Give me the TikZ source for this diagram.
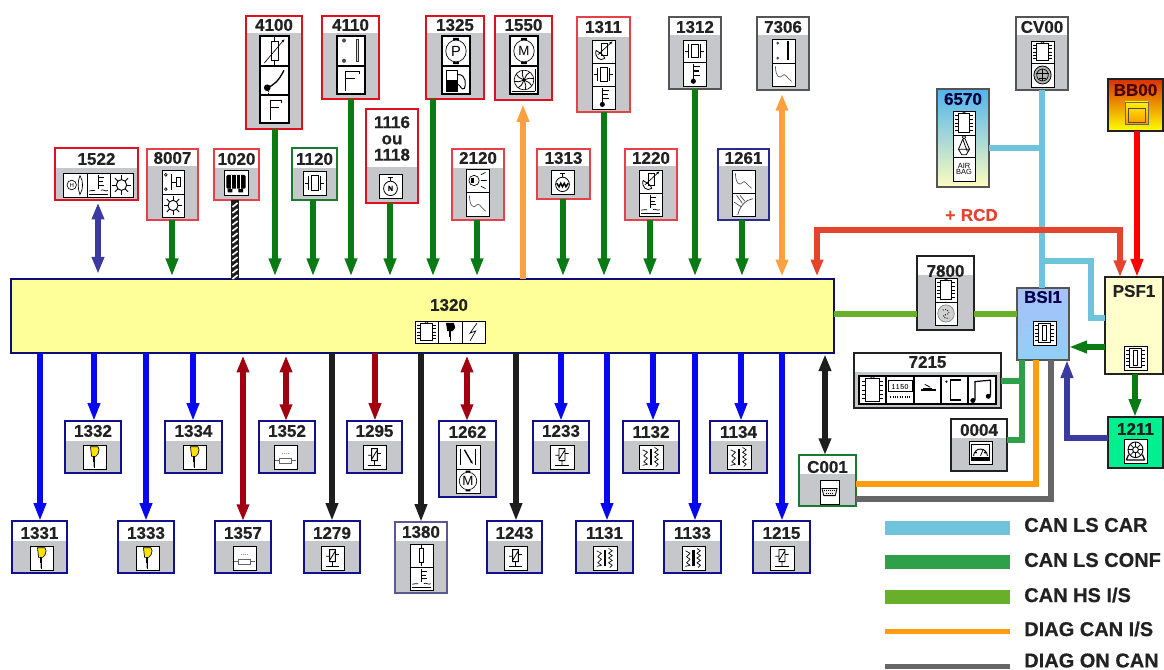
\documentclass[tikz,border=0pt]{standalone}
\usepackage{fontspec}
\setmainfont{Liberation Sans}[BoldFeatures={FakeBold=0.5}]
\usetikzlibrary{arrows.meta,calc}
\definecolor{boxgray}{HTML}{C6C7CB}
\definecolor{txt}{HTML}{222222}
\definecolor{arrgreen}{HTML}{0A7A14}
\definecolor{arrblue}{HTML}{0808F0}
\definecolor{arrred}{HTML}{A00010}
\definecolor{arrblack}{HTML}{1E1E1E}
\definecolor{arrnavy}{HTML}{3A3AA0}
\definecolor{arrorange}{HTML}{FFA040}
\definecolor{rcd}{HTML}{E6432E}
\definecolor{canlscar}{HTML}{6EC4DA}
\definecolor{canlsconf}{HTML}{2EA04A}
\definecolor{canhs}{HTML}{6AAF2A}
\definecolor{diagor}{HTML}{FF9C10}
\definecolor{diaggr}{HTML}{666666}
\tikzset{
 redb/.style={draw={rgb,255:red,224;green,16;blue,30},line width=1.8pt},
 pinkb/.style={draw={rgb,255:red,232;green,64;blue,74},line width=1pt},
 greenb/.style={draw={rgb,255:red,26;green,122;blue,48},line width=1.5pt},
 grayb/.style={draw={rgb,255:red,85;green,85;blue,85},line width=1.1pt},
 navyt/.style={draw={rgb,255:red,42;green,42;blue,144},line width=.8pt},
 blueb/.style={draw={rgb,255:red,16;green,16;blue,144},line width=1.5pt},
 paleb/.style={draw={rgb,255:red,90;green,90;blue,144},line width=.9pt},
 blackb/.style={draw=txt,line width=1.5pt},
 modbox/.style={rectangle,inner sep=0pt,outer sep=0pt},
 lab/.style={font=\fontsize{12.75}{13.2}\selectfont\bfseries,text=txt,inner sep=0pt,align=center},
 leg/.style={font=\fontsize{15}{15}\selectfont\bfseries,text=txt,inner sep=0pt,anchor=west},
 iconbox/.style={draw=black,fill=white,line width=.6pt},
 iconbold/.style={draw=black,fill=white,line width=1.2pt},
 gl/.style={line width=.5pt,draw=black},
 conn/.style={line width=4.6pt},
 tipd/.style={-{Triangle[length=13.5pt,width=8.8pt]}},
 tipb/.style={{Triangle[length=12.5pt,width=8.8pt]}-{Triangle[length=12.5pt,width=8.8pt]}},
 glt/.style={font=\fontsize{7}{7}\selectfont,inner sep=0pt},
}
\newcommand{\ubx}[9]{% id x1 y1 x2 y2 grayY labelY style label
 \fill[white] (#2,#3) rectangle (#4,#5);
 \fill[boxgray] (#2,#6) rectangle (#4,#5);
 \node[modbox,#8,minimum width={(#4-#2)*0.75pt},minimum height={(#5-#3)*0.75pt}] (b#1) at ({(#2+#4)/2},{(#3+#5)/2}) {};
 \node[lab] (l#1) at ({(#2+#4)/2},#7) {#9};
}
\newcommand{\ub}[8]{\ubx{#1}{#2}{#3}{#4}{#5}{#6}{#7}{#8}{#1}}
\newcommand{\ubf}[9]{% id x1 y1 x2 y2 labelY borderstyle fill options, label colour
 \path[#8] (#2,#3) rectangle (#4,#5);
 \node[modbox,#7,minimum width={(#4-#2)*0.75pt},minimum height={(#5-#3)*0.75pt}] (b#1) at ({(#2+#4)/2},{(#3+#5)/2}) {};
 \node[lab,text=#9] (l#1) at ({(#2+#4)/2},#6) {#1};
}
\newcommand{\ic}[5]{%
 \path[iconbox] (#1,#2) rectangle (#3,#4);
 \begin{scope}[gl,shift={({(#1+#3)/2},{(#2+#4)/2})},xscale={(#3-#1)/20},yscale={(#4-#2)/20}]#5\end{scope}}
\newcommand{\icb}[5]{%
 \path[iconbold] (#1,#2) rectangle (#3,#4);
 \begin{scope}[gl,shift={({(#1+#3)/2},{(#2+#4)/2})},xscale={(#3-#1)/20},yscale={(#4-#2)/20}]#5\end{scope}}
% glyphs
\newcommand{\gChip}{\draw (-5,-8) rectangle (5,8); \draw (-1.5,-8) arc (180:0:1.5 and -1.5);
 \foreach \yy in {-6,-3,0,3,6}{\draw (-8,\yy)--(-5,\yy) (5,\yy)--(8,\yy);}}
\newcommand{\gChipB}{\draw[line width=.7pt] (-5,-8) rectangle (5,8); \draw[line width=.7pt] (-1.6,-6) rectangle (1.6,6);
 \foreach \yy in {-6,-3,0,3,6}{\draw (-8,\yy)--(-5,\yy) (5,\yy)--(8,\yy);}}
\newcommand{\gThermo}{\draw[line width=.8pt] (-1,-8)--(-1,5) (-1,-6)--(4.5,-6) (-1,-2.5)--(3.5,-2.5) (-1,1)--(4.5,1); \fill (-1,6) circle (2.2);}
\newcommand{\gThermoF}{\draw (0,-8)--(0,3) (0,-6)--(4.5,-6) (0,-3)--(3.5,-3) (0,0)--(4.5,0);
 \draw (-8,5) .. controls (-6,3) and (-5,6) .. (-3,4.5) (2,4.5) .. controls (4,3) and (6,6) .. (8,4.5); \draw (-8,7.5)--(8,7.5);}
\newcommand{\gVarRes}{\draw (-2.5,-6.5) rectangle (2.5,6.5) (0,-9.5)--(0,-6.5) (0,6.5)--(0,9.5);
 \draw[-{Latex[length=2.5pt,width=2pt]}] (-7,8)--(7,-8);}
\newcommand{\gVarResL}{\draw[line width=.6pt] (-1.5,-7) rectangle (3,3); \draw[line width=.6pt] (-6.5,-1) .. controls (-8,5) and (-3,9) .. (1,6) .. controls (1,3) and (-4,1) .. (-6.5,-1);
 \draw[-{Latex[length=2.5pt,width=2pt]}] (-5,3)--(8,-9);}
\newcommand{\gPedal}{\fill (-5,5) circle (2.3); \draw[line width=1pt] (-5,5) .. controls (0,3) and (3,0) .. (6.5,-7); \draw[densely dotted] (-4,7)--(-4,9.5);}
\newcommand{\gF}{\draw (-3,8)--(-3,-6)--(5,-6)--(5,-4) (-3,-1)--(3,-1);}
\newcommand{\gFb}{\draw[line width=1.1pt] (-4,8)--(-4,-6)--(6,-6)--(6,-4) (-4,-1)--(3,-1);}
\newcommand{\gContact}{\fill[black!70] (-5,-7) circle (1.4) (-5,6.5) circle (1.4); \draw[black!80,fill=black!15] (3.5,-8) rectangle (5.5,7);}
\newcommand{\gContactB}{\fill[black!70] (-5,-6.5) circle (1.3) (-5,6) circle (1.3); \fill[black] (3,-8) rectangle (4.8,7.5);}
\newcommand{\gCurve}{\draw[black!65,line width=.5pt] (-7,-7) .. controls (-7,2) and (-3,4) .. (-1,1) .. controls (1,-2) and (3,3) .. (7,6);}
\newcommand{\gYCurve}{\draw[black!75] (-5,9) .. controls (-3,1) and (2,-4) .. (8,-5) (-1,-1)--(-6,-8) (1,-3)--(-3,-8) (-2,2)--(-8,-2);}
\newcommand{\gCircP}{\draw (0,0) circle (7.3); \node[glt,font=\fontsize{11}{11}\selectfont] (gp) at (0,0) {P}; \fill (-2,-8.7) rectangle (2,-7.3) (-2,7.3) rectangle (2,8.7);}
\newcommand{\gCircM}{\draw (0,0) circle (7.3); \node[glt,font=\fontsize{10}{10}\selectfont] (gm) at (0,0) {M}; \fill (-2,-8.7) rectangle (2,-7.3) (-2,7.3) rectangle (2,8.7);}
\newcommand{\gFuel}{\draw[line width=.7pt] (-7,-7) rectangle (1,8); \fill (-7,0) rectangle (1,8); \draw[line width=.7pt] (1,-4) .. controls (8,-4) and (7,4) .. (6,6) .. controls (4,8) and (3,3) .. (1,3);}
\newcommand{\gTurbine}{\draw (0,0) circle (7); \foreach \aa in {0,45,...,315}{\draw[rotate=\aa,line width=.6pt] (0,0) .. controls (3,-1) and (5,-2) .. (6.7,-1);} \draw[line width=.6pt] (-8.5,8)--(8,8) (8,8)--(8,-8);}
\newcommand{\gKnock}{\draw (-8,0)--(-5,0) (-5,-6)--(-5,6) (-3,-6) rectangle (3,6) (5,-6)--(5,6) (5,0)--(8,0);}
\newcommand{\gRpmN}{\draw[line width=.6pt] (0,2) circle (6); \draw (0,-4)--(0,-7.5) (-2,-7.5)--(2,-7.5); \node[glt,font=\fontsize{5.5}{5.5}\selectfont\bfseries] (gn) at (0,2) {N};}
\newcommand{\gRpmW}{\draw[line width=.6pt] (0,2) circle (6); \draw (0,-4)--(0,-7.5) (-2,-7.5)--(2,-7.5); \draw[line width=1.1pt] (-5,1)--(-3,4)--(-1.5,1)--(0,4)--(1.5,1)--(3,4)--(5,1);}
\newcommand{\gLight}{\draw (-3,0) circle (4.5); \fill (-6,-2) rectangle (-3,2); \draw (3,-5)--(7,-7) (3,0)--(8,0) (3,5)--(7,7);}
\newcommand{\gInj}{\filldraw[fill=yellow!85!orange,draw=black,line width=.5pt] (-3.5,-8.5)--(3,-8.5)--(4,-6)--(3,-2.5)--(1,-.5)--(-2.5,-.5)--cycle; \fill (-1.6,-.5) rectangle (.8,4.5); \fill[gray!60] (-1.2,4.5) rectangle (.4,8); \fill (-.8,4.5) rectangle (0,9);}
\newcommand{\gRes}{\draw[black!60] (-9,3)--(-5,3) (-5,1) rectangle (5,5) (5,3)--(9,3); \draw[black!40,densely dotted] (-3,-3)--(3,-3);}
\newcommand{\gSens}{\draw[line width=.6pt] (-2.5,-7) rectangle (2.5,3) (-5.5,-1.5)--(-2.5,-1.5) (2.5,-3)--(5.5,-3) (-2.5,2)--(2.5,-6) (0,3)--(0,6.5); \draw[line width=1pt] (-6,7)--(6,7);}
\newcommand{\gCoil}{\draw[line width=.5pt] (-7,-6)--(-3,-4)--(-6,-1)--(-3,1)--(-6,4)--(-3,6)--(-7,7); \fill (-1,-7) rectangle (1,7); \draw[line width=.5pt] (3,-8)--(6,-6)--(3,-4)--(6,-2)--(3,0)--(6,2)--(3,4)--(6,6)--(4,8) ;}
\newcommand{\gAlt}{\fill[rounded corners=1pt] (-8,-6) rectangle (8,5); \fill (-7,5) rectangle (-3,8) (2,5) rectangle (6,8); \draw[white,line width=.7pt] (-4,-6)--(-4,5) (0,-6)--(0,5) (4,-6)--(4,5);}
\newcommand{\gGear}{\draw[line width=.7pt] (0,0) circle (4.5); \foreach \aa in {0,45,...,315}{\draw[rotate=\aa,line width=.7pt] (4.5,0)--(8,0);}}
\newcommand{\gFan}{\draw (-3,0) circle (4); \node[glt,font=\fontsize{4.5}{4.5}\selectfont] (gh) at (-3,0) {H}; \draw[fill=white] (4,-8) .. controls (7,-3) and (7,3) .. (4,8) .. controls (2,3) and (2,-3) .. (4,-8);}
\newcommand{\gSwitch}{\draw (-6.5,-6) circle (1.2) (-6.5,6) circle (1.2); \draw[line width=.7pt] (-1,-7)--(-1,7) (-1,0)--(3,0) (3,-3.5) rectangle (7,3.5);}
\newcommand{\gThrottle}{\draw (-6,-7)--(-6,7) (6,-7)--(6,7); \draw[line width=1pt,-{Latex[length=2.5pt,width=2pt]}] (-3,-6)--(4,6);}
\newcommand{\gWheel}{\filldraw[fill=gray!60,line width=.6pt] (0,0) circle (7.5); \draw[line width=.5pt] (0,0) circle (5); \draw[line width=.8pt] (-6,-1)--(6,-1) (-3,3)--(3,3) (0,-5)--(0,5);}
\newcommand{\gSpeck}{\filldraw[fill=gray!35,draw=black!50] (0,0) circle (7.5); \draw[black!80,densely dotted,line width=.8pt] (-3,-3) .. controls (3,-5) and (5,1) .. (0,1) .. controls (-4,1) and (-3,5) .. (3,4);}
\newcommand{\gBelt}{\draw (0,-8) circle (1.6); \draw[line width=.6pt] (-1,-6.5)--(-5,3)--(-2,8)--(2,8)--(5,3)--(1,-6.5); \draw[line width=.6pt] (-5,3)--(5,3) (-1,-6)--(3,5);}
\newcommand{\gAirbag}{\node[glt,font=\fontsize{5.6}{5.2}\selectfont,align=center] (gab) at (0,0) {AIR\\BAG};}
\newcommand{\gDisplay}{\node[glt,font=\fontsize{6.2}{6.2}\selectfont\ttfamily\bfseries] (gd) at (0,-2.5) {1150}; \draw[densely dotted,line width=.8pt] (-7,5)--(7,5); \draw (-8.5,-7) rectangle (8.5,1);}
\newcommand{\gOil}{\draw[line width=.9pt] (-5,0)--(6,0); \fill (-3,-1.5) rectangle (3,1); \draw[line width=.6pt] (-2,-4)--(2,-2);}
\newcommand{\gDegC}{\fill (-6,-6) circle (.9); \draw[line width=1.1pt] (5,-7)--(-3,-7)--(-3,7)--(5,7);}
\newcommand{\gNote}{\draw[line width=.9pt] (-5,7)--(-5,-6)--(6,-7)--(6,4); \fill (-6.5,7.5) circle (1.8) (4.5,4.5) circle (1.8);}
\newcommand{\gGauge}{\draw (-8,-7) rectangle (8,7); \draw[line width=.7pt] (-6,3) arc (180:360:6); \draw (0,3)--(2,-2); \fill (-7,4) rectangle (7,6.5);\fill (-4,0) circle (1) (4,0) circle (1);}
\newcommand{\gPumpW}{\draw[line width=.7pt] (0,-1) circle (6.5) (0,-1) circle (2.5); \foreach \aa in {0,45,...,315}{\draw[rotate around={\aa:(0,-1)}] (2.5,-1)--(6.5,-1);} \draw[line width=.9pt] (-8,7.5)--(8,7.5) (-6,3)--(-8,7.5) (6,3)--(8,7.5);}
\newcommand{\gConn}{\draw[line width=.6pt,fill=gray!15] (-8,-3)--(8,-3)--(6,3)--(-6,3)--cycle; \draw[densely dotted] (-6,-1)--(6,-1) (-4,1)--(4,1);}
\newcommand{\gBolt}{\draw[line width=.5pt] (3,-8)--(-3,1)--(2,-1)--(-3,8);}
\newcommand{\gInjW}{\filldraw[fill=black] (-3,-8)--(3,-8)--(4,-4)--(2,-1)--(-2,-1)--cycle; \fill (-1,-1) rectangle (1,5); \draw (0,5)--(0,8);}
\newcommand{\gVres}{\draw (-2,-6) rectangle (2,6) (0,-9)--(0,-6) (0,6)--(0,9);}
\newcommand{\toecu}[3]{\coordinate (a#1) at (#2,0); \draw[conn,#3,shorten >=2pt] (a#1 |- b#1.south) -- (a#1 |- becu.north);}
\newcommand{\fromecu}[3]{\coordinate (a#1) at (#2,0); \draw[conn,#3,tipd] (a#1 |- becu.south) -- (a#1 |- b#1.north);}
\begin{document}
\begin{tikzpicture}[x=0.75pt,y=-0.75pt]
\useasboundingbox (0,0) rectangle (1164,670);
\fill[white] (0,0) rectangle (1164,670);
% ECU
\node[modbox,draw={rgb,255:red,12;green,12;blue,120},fill={rgb,255:red,255;green,255;blue,153},line width=1.6pt,minimum width={823*0.75pt},minimum height={74*0.75pt}] (becu) at (422.5,316) {};
\node[lab] (lecu) at (449,305) {1320};
\ic{415}{321}{438}{343}{\gChip}
\ic{438}{321}{462}{343}{\gInjW}
\ic{462}{321}{485}{343}{\gBolt}
% top modules
\ub{1522}{55}{148}{138}{200}{168}{159}{redb}
\ic{63.5}{173}{87}{197}{\gFan}\ic{87}{173}{110}{197}{\gThermoF}\ic{110}{173}{133}{197}{\gGear}
\ub{8007}{147}{149}{198}{220}{166}{158}{pinkb}
\ic{162}{170}{184}{194}{\gSwitch}\ic{162}{194}{184}{217}{\gGear}
\ub{1020}{214}{149}{259}{200}{168}{159}{pinkb}
\ic{224}{170}{248}{195}{\gAlt}
\ub{1120}{292}{148}{337}{200}{168}{159}{greenb}
\ic{303}{171}{326}{195}{\gKnock}
\ub{4100}{246}{16}{302}{129}{33}{25}{redb}
\icb{260}{36}{289}{66}{\gVarRes}\icb{260}{66}{289}{95}{\gPedal}\icb{260}{95}{289}{123}{\gF}
\ub{4110}{322}{16}{379}{99}{33}{25}{redb}
\icb{337}{36}{365}{66}{\gContact}\icb{337}{66}{365}{94}{\gFb}
\ubx{1116}{366}{109}{418}{203}{167}{138.5}{redb}{1116\\[-1pt]ou\\[-1pt]1118}
\ic{379}{174}{402}{198}{\gRpmN}
\ub{1325}{426}{16}{484}{99}{33}{25}{redb}
\icb{442}{36}{470}{66}{\gCircP}\icb{442}{66}{470}{94}{\gFuel}
\ub{1550}{495}{16}{552}{100}{33}{25}{redb}
\icb{510}{36}{538}{66}{\gCircM}\icb{510}{66}{538}{94}{\gTurbine}
\ub{1311}{577}{17}{630}{112}{37}{27}{pinkb}
\ic{592}{40}{615}{63}{\gVarResL}\ic{592}{63}{615}{86}{\gKnock}\ic{592}{86}{615}{109}{\gThermo}
\ub{1312}{669}{17}{721}{89}{35}{27}{grayb}
\ic{683}{40}{706}{62}{\gKnock}\ic{683}{62}{706}{86}{\gThermo}
\ub{7306}{757}{17}{809}{90}{35}{27}{grayb}
\ic{772}{39}{795}{63}{\gContactB}\ic{772}{63}{795}{86}{\gCurve}
\ub{2120}{452}{149}{504}{220}{168}{158}{pinkb}
\ic{466}{169}{489}{192}{\gLight}\ic{466}{192}{489}{216}{\gCurve}
\ub{1313}{537}{149}{590}{199}{166}{158}{pinkb}
\ic{551}{170}{574}{194}{\gRpmW}
\ub{1220}{625}{149}{677}{220}{166}{158}{pinkb}
\ic{639}{170}{662}{193}{\gVarResL}\ic{639}{193}{662}{216}{\gThermoF}
\ub{1261}{718}{149}{769}{220}{166}{158}{navyt}
\ic{732}{170}{755}{193}{\gCurve}\ic{732}{193}{755}{216}{\gYCurve}
\ub{CV00}{1016}{17}{1068}{90}{35}{27}{grayb}
\ic{1031}{41}{1054}{63}{\gChip}\ic{1031}{63}{1054}{87}{\gWheel}
% gradient modules
\ubf{6570}{937}{89}{989}{187}{99}{grayb}{top color={rgb,255:red,80;green,180;blue,240},bottom color={rgb,255:red,253;green,252;blue,190}}{black!80!blue}
\ic{953}{111}{975}{135}{\gChip}\ic{953}{135}{975}{157}{\gBelt}\ic{953}{157}{975}{181}{\gAirbag}
\ubf{BB00}{1108}{79}{1163}{131}{90}{blackb}{top color={rgb,255:red,216;green,48;blue,0},middle color=yellow,bottom color=yellow}{black!70!red}
\path[draw=black!60,line width=.5pt,top color=yellow!90!orange,bottom color=orange!80!yellow] (1125,102) rectangle (1148,124);
\draw[black!70,line width=.5pt] (1128,108) rectangle (1145,122);
\ubf{PSF1}{1105}{277}{1163}{374}{291}{blackb}{fill={rgb,255:red,255;green,255;blue,204}}{txt}
\ic{1124}{346}{1147}{370}{\gChipB}
\ubf{BSI1}{1017}{288}{1069}{360}{297}{grayb}{top color={rgb,255:red,168;green,192;blue,248},middle color={rgb,255:red,168;green,116;blue,240},bottom color={rgb,255:red,144;green,208;blue,248}}{black!70!blue}
\ic{1033}{321}{1056}{345}{\gChipB}
\ub{7800}{917}{256}{974}{330}{275}{271}{blackb}
\ic{935}{278}{957}{302}{\gChip}\ic{935}{302}{957}{325}{\gSpeck}
\ub{7215}{854}{353}{1001}{408}{372}{362}{blackb}
\icb{859}{376}{886}{404}{\gChip}\icb{886}{376}{914}{404}{\gDisplay}\icb{914}{376}{941}{404}{\gOil}\icb{941}{376}{968}{404}{\gDegC}\icb{968}{376}{996}{404}{\gNote}
\ub{0004}{951}{419}{1007}{471}{438}{430}{blackb}
\ic{969}{441}{992}{464}{\gGauge}
\ubf{1211}{1108}{417}{1163}{468}{429}{blackb}{fill={rgb,255:red,0;green,240;blue,144}}{txt}
\ic{1124}{439}{1147}{463}{\gPumpW}
\ub{C001}{799}{455}{856}{506}{474}{467}{greenb}
\ic{820}{480}{839}{504}{\gConn}
% bottom modules
\ub{1332}{65}{421}{121}{473}{441}{431}{blueb}\ic{83}{445}{106}{469}{\gInj}
\ub{1334}{165}{421}{222}{473}{441}{431}{blueb}\ic{183}{445}{206}{469}{\gInj}
\ub{1352}{259}{421}{315}{473}{441}{431}{blueb}\ic{274}{445}{297}{469}{\gRes}
\ub{1295}{347}{421}{402}{473}{441}{431}{blueb}\ic{363}{445}{386}{469}{\gSens}
\ub{1262}{439}{421}{496}{497}{441}{432}{blueb}\ic{456}{445}{480}{469}{\gThrottle}\ic{456}{469}{480}{493}{\gCircM}
\ub{1233}{533}{421}{589}{473}{441}{431}{blueb}\ic{550}{445}{574}{469}{\gSens}
\ub{1132}{623}{421}{679}{473}{441}{432}{blueb}\ic{639}{445}{663}{469}{\gCoil}
\ub{1134}{710}{421}{767}{473}{441}{432}{blueb}\ic{727}{445}{751}{469}{\gCoil}
\ub{1331}{12}{521}{67}{573}{541}{533}{blueb}\ic{30}{546}{53}{570}{\gInj}
\ub{1333}{118}{521}{174}{573}{541}{533}{blueb}\ic{136}{546}{159}{570}{\gInj}
\ub{1357}{215}{521}{271}{573}{541}{533}{blueb}\ic{233}{546}{256}{570}{\gRes}
\ub{1279}{304}{521}{360}{573}{541}{533}{blueb}\ic{321}{546}{344}{570}{\gSens}
\ub{1380}{395}{522}{447}{593}{541}{532}{paleb}\ic{410}{544}{433}{567}{\gVres}\ic{410}{567}{433}{590}{\gThermoF}
\ub{1243}{487}{521}{542}{573}{541}{533}{blueb}\ic{504}{546}{527}{570}{\gSens}
\ub{1131}{576}{521}{633}{573}{541}{533}{blueb}\ic{593}{546}{617}{570}{\gCoil}
\ub{1133}{664}{521}{721}{573}{541}{533}{blueb}\ic{682}{546}{705}{570}{\gCoil}
\ub{1215}{753}{521}{810}{573}{541}{533}{blueb}\ic{770}{546}{794}{570}{\gSens}
% connectors to the ECU, top
\coordinate (a1522) at (98,0);
\draw[conn,arrnavy,tipb,line width=4.2pt,shorten <=2pt,shorten >=4pt] (a1522 |- b1522.south) -- (a1522 |- becu.north);
\toecu{8007}{172}{arrgreen,tipd}
\coordinate (a1020) at (235,0);
\draw[line width=5.5pt,arrblack] (a1020 |- b1020.south) -- (a1020 |- becu.north);
\foreach \yy in {205,211,...,277}{\draw[white,line width=1.2pt] (232.4,\yy+2) -- (237.6,\yy-2);}
\toecu{4100}{275}{arrgreen,tipd}
\toecu{1120}{313}{arrgreen,tipd}
\toecu{4110}{351}{arrgreen,tipd}
\toecu{1116}{390}{arrgreen,tipd}
\toecu{1325}{433}{arrgreen,tipd}
\toecu{2120}{477}{arrgreen,tipd}
\toecu{1313}{563}{arrgreen,tipd}
\toecu{1311}{604}{arrgreen,tipd}
\toecu{1220}{650}{arrgreen,tipd}
\toecu{1312}{695}{arrgreen,tipd}
\toecu{1261}{742}{arrgreen,tipd}
\coordinate (a1550) at (523,0);
\draw[conn,arrorange,tipd,shorten >=3pt] (a1550 |- becu.north) -- (a1550 |- b1550.south);
\coordinate (a7306) at (782,0);
\draw[conn,arrorange,tipb,shorten <=2pt,shorten >=3pt] (a7306 |- becu.north) -- (a7306 |- b7306.south);
% bottom
\fromecu{1331}{40}{arrblue}
\fromecu{1332}{94}{arrblue}
\fromecu{1333}{146}{arrblue}
\fromecu{1334}{193}{arrblue}
\fromecu{1279}{332}{arrblack}
\fromecu{1295}{375}{arrred}
\fromecu{1380}{421}{arrblack}
\fromecu{1243}{516}{arrblack}
\fromecu{1233}{561}{arrblue}
\fromecu{1131}{607}{arrblue}
\fromecu{1132}{653}{arrblue}
\fromecu{1133}{695}{arrblue}
\fromecu{1134}{741}{arrblue}
\fromecu{1215}{782}{arrblue}
\coordinate (a1357) at (243,0);
\coordinate (a1352) at (286,0);
\coordinate (a1262) at (467,0);
\coordinate (aC001) at (825,0);
\draw[conn,arrred,tipb,shorten <=2pt] (a1357 |- becu.south) -- (a1357 |- b1357.north);
\draw[conn,arrred,tipb,shorten <=2pt] (a1352 |- becu.south) -- (a1352 |- b1352.north);
\draw[conn,arrred,tipb,shorten <=2pt] (a1262 |- becu.south) -- (a1262 |- b1262.north);
\draw[conn,arrblack,tipb,shorten <=1pt] (aC001 |- becu.south) -- (aC001 |- bC001.north);
% CAN networks
\coordinate (busx) at (1042,0);
\coordinate (can6570) at (0,148);
\coordinate (canpsf) at (0,318);
\coordinate (canrise) at (1091,261);
\draw[canlscar,conn] (bCV00.south -| busx) -- (bBSI1.north -| busx);
\draw[canlscar,conn] (b6570.east |- can6570) -- (busx |- can6570);
\draw[canlscar,conn] (busx |- canrise) -- (canrise) -- (canrise |- canpsf) -- (bPSF1.west |- canpsf);
\coordinate (hsy) at (0,314);
\draw[canhs,conn] (becu.east |- hsy) -- (b7800.west |- hsy);
\draw[canhs,conn] (b7800.east |- hsy) -- (bBSI1.west |- hsy);
\coordinate (confx) at (1022,0);
\coordinate (conf7215) at (0,381);
\coordinate (conf0004) at (0,440);
\draw[canlsconf,conn] (b7215.east |- conf7215) -- (confx |- conf7215);
\draw[canlsconf,conn] (b0004.east |- conf0004) -- (confx |- conf0004) -- (confx |- bBSI1.south);
\coordinate (orx) at (1036,0);
\coordinate (ory) at (0,484);
\draw[diagor,line width=3.8pt] (orx |- bBSI1.south) -- (orx |- ory) -- (bC001.east |- ory);
\coordinate (grx) at (1051,0);
\coordinate (gry) at (0,499);
\draw[diaggr,line width=3.8pt] (grx |- bBSI1.south) -- (grx |- gry) -- (bC001.east |- gry);
% power
\coordinate (rcdl) at (817,230);
\coordinate (rcdr) at (1120,230);
\draw[rcd,conn,tipb,shorten <=2pt] (rcdl |- becu.north) -- (rcdl) -- (rcdr) -- (rcdr |- bPSF1.north);
\node[font=\fontsize{12.75}{13}\selectfont\bfseries,text=rcd,inner sep=0pt] (lrcd) at (971.5,215) {+\,\,RCD};
\coordinate (bbx) at (1137,0);
\draw[red,conn,tipd] (bbx |- bBB00.south) -- (bbx |- bPSF1.north);
\coordinate (psfa) at (0,347);
\draw[arrgreen,conn,tipd] (bPSF1.west |- psfa) -- (bBSI1.east |- psfa);
\coordinate (psfb) at (1135,0);
\draw[arrgreen,conn,tipd] (psfb |- bPSF1.south) -- (psfb |- b1211.north);
\coordinate (nvx) at (1067,0);
\coordinate (nvy) at (0,438);
\draw[arrnavy,conn,tipd] (b1211.west |- nvy) -- (nvx |- nvy) -- (nvx |- bBSI1.south);
% legend
\fill[canlscar] (885,521) rectangle (1010,535);
\fill[canlsconf] (885,555) rectangle (1010,569);
\fill[canhs] (885,590) rectangle (1010,604);
\fill[diagor] (885,629) rectangle (1010,634);
\fill[diaggr] (885,664) rectangle (1010,669);
\node[leg] (leg1) at (1024,525) {CAN LS CAR};
\node[leg] (leg2) at (1024,560) {CAN LS CONF};
\node[leg] (leg3) at (1024,595) {CAN HS I/S};
\node[leg] (leg4) at (1024,629) {DIAG CAN I/S};
\node[leg] (leg5) at (1024,660.5) {DIAG ON CAN};
\end{tikzpicture}
\end{document}
